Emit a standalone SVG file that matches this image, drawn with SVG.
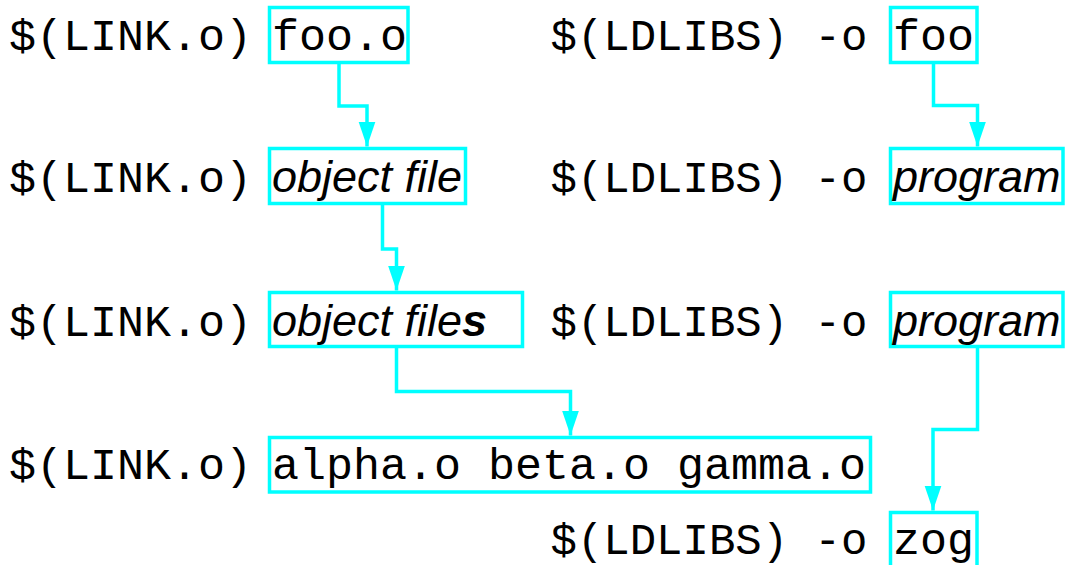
<svg xmlns="http://www.w3.org/2000/svg" width="1066" height="565" viewBox="0 0 1066 565">
<defs>
<style>
.m{font-family:"Liberation Mono","DejaVu Sans Mono",monospace;font-size:45px;fill:#000}
.l{font-size:44px}
.i{font-family:"Liberation Sans",Arial,sans-serif;font-style:italic;font-size:45px;fill:#000}
.b{font-weight:bold}
.box{fill:none;stroke:#00ffff;stroke-width:3.5}
.c{fill:none;stroke:#00ffff;stroke-width:3.5;stroke-linejoin:miter}
</style>
<marker id="ah" markerUnits="userSpaceOnUse" markerWidth="26" markerHeight="18" refX="25" refY="8.5" orient="auto">
<path d="M0,0 L25,8.5 L0,17 z" fill="#00ffff"/>
</marker>
</defs>
<rect width="1066" height="565" fill="#fff"/>
<g id="labels">
<text class="m" x="9" y="50">$(LINK.o)</text>
<text class="m" x="9" y="191.5">$(LINK.o)</text>
<text class="m" x="9" y="335.5">$(LINK.o)</text>
<text class="m" x="9" y="479">$(LINK.o)</text>
<text class="m l" x="550.5" y="50">$(LDLIBS) -o</text>
<text class="m l" x="550.5" y="191.5">$(LDLIBS) -o</text>
<text class="m l" x="550.5" y="335.5">$(LDLIBS) -o</text>
<text class="m l" x="550.5" y="554">$(LDLIBS) -o</text>
</g>
<g id="n-fooo">
<rect class="box" x="269.5" y="7.5" width="138.5" height="55"/>
<text class="m" x="272" y="50">foo.o</text>
</g>
<g id="n-objfile">
<rect class="box" x="269.5" y="148.5" width="196" height="55"/>
<text class="i" x="272" y="191.5">object file</text>
</g>
<g id="n-objfiles">
<rect class="box" x="269.5" y="292.5" width="253" height="54"/>
<text class="i" x="272" y="335.5">object file<tspan class="b">s</tspan></text>
</g>
<g id="n-alpha">
<rect class="box" x="269.5" y="437.5" width="601" height="54.5"/>
<text class="m" x="272" y="479">alpha.o beta.o gamma.o</text>
</g>
<g id="n-foo">
<rect class="box" x="890.5" y="7.5" width="86.5" height="55"/>
<text class="m" x="893" y="50">foo</text>
</g>
<g id="n-program1">
<rect class="box" x="890.5" y="148.5" width="172.5" height="55"/>
<text class="i" x="893" y="191.5">program</text>
</g>
<g id="n-program2">
<rect class="box" x="890.5" y="292.5" width="172.5" height="54"/>
<text class="i" x="893" y="335.5">program</text>
</g>
<g id="n-zog">
<rect class="box" x="890.5" y="512.5" width="86.5" height="60"/>
<text class="m" x="893" y="554">zog</text>
</g>
<g id="connectors">
<path class="c" d="M339,62.5 V106 H367 V146.5" marker-end="url(#ah)"/>
<path class="c" d="M382.5,203.5 V249 H396.5 V290.5" marker-end="url(#ah)"/>
<path class="c" d="M396.5,346.5 V391.5 H570.5 V435.5" marker-end="url(#ah)"/>
<path class="c" d="M933.5,62.5 V105.5 H977.5 V146.5" marker-end="url(#ah)"/>
<path class="c" d="M977.5,346.5 V429.5 H933 V510.5" marker-end="url(#ah)"/>
</g>
</svg>
